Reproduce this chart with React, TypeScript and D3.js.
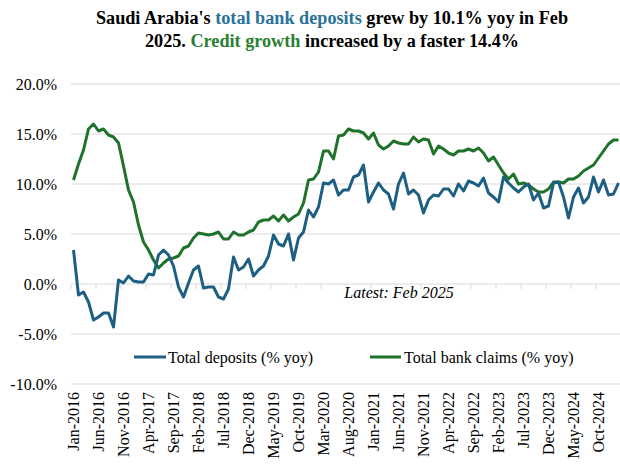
import React from "react";
import * as d3 from "d3";

const monthNames = ["Jan","Feb","Mar","Apr","May","Jun","Jul","Aug","Sep","Oct","Nov","Dec"];
// Jan-2016 .. Feb-2025 (110 months)
const months: string[] = [];
for (let y = 2016; y <= 2025; y++) {
  for (let m = 0; m < 12; m++) {
    if (y === 2025 && m > 1) break;
    months.push(`${monthNames[m]}-${y}`);
  }
}

const deposits = [
  3.4, -1.1, -0.8, -1.8, -3.6, -3.3, -2.9, -2.9, -4.3, 0.4,
  0.1, 0.8, 0.3, 0.2, 0.2, 1.0, 0.9, 2.9, 3.4, 2.9,
  1.8, -0.3, -1.3, 0.1, 1.4, 1.8, -0.4, -0.3, -0.3, -1.3,
  -1.5, -0.5, 2.7, 1.4, 1.7, 2.5, 0.8, 1.4, 1.8, 2.8,
  4.9, 4.0, 3.8, 5.0, 2.4, 4.6, 5.2, 7.4, 6.7, 7.7,
  10.1, 10.0, 10.4, 8.9, 9.4, 9.4, 10.7, 10.9, 11.9, 8.2,
  9.2, 10.1, 9.4, 9.0, 7.5, 10.0, 11.1, 9.0, 9.4, 8.9,
  7.1, 8.4, 8.9, 8.8, 9.5, 9.5, 8.8, 10.0, 9.3, 10.3,
  10.1, 9.8, 10.6, 9.1, 8.7, 8.2, 10.7, 10.1, 9.6, 9.2,
  9.7, 10.0, 8.4, 9.1, 7.6, 7.8, 10.1, 10.2, 8.7, 6.6,
  8.7, 9.6, 8.1, 8.7, 10.7, 9.2, 10.4, 8.9, 9.0, 10.1,
];

const claims = [
  10.4, 12.0, 13.4, 15.5, 16.0, 15.3, 15.5, 14.9, 14.7, 14.1,
  11.8, 9.4, 8.2, 5.9, 4.2, 3.4, 2.4, 1.6, 2.1, 2.5,
  2.6, 2.8, 3.6, 3.8, 4.6, 5.1, 5.0, 4.9, 5.0, 5.2,
  4.5, 4.5, 5.2, 4.9, 4.9, 5.2, 5.4, 6.2, 6.4, 6.4,
  6.8, 6.3, 6.9, 6.3, 6.7, 7.0, 8.1, 10.4, 10.5, 11.2,
  13.3, 13.3, 12.5, 14.8, 14.9, 15.5, 15.3, 15.3, 15.1, 14.5,
  15.1, 13.9, 13.5, 13.8, 14.3, 14.1, 14.0, 14.0, 14.7, 14.2,
  14.5, 14.4, 13.0, 13.8, 13.5, 13.1, 12.9, 13.3, 13.3, 13.5,
  13.3, 13.6, 13.1, 12.3, 12.7, 11.9, 11.1, 10.5, 11.0, 10.0,
  10.1, 9.9, 9.5, 9.2, 9.2, 9.5, 10.2, 10.2, 10.1, 10.5,
  10.5, 10.8, 11.3, 11.6, 11.9, 12.6, 13.3, 14.0, 14.4, 14.4,
];

const yTicks = [20, 15, 10, 5, 0, -5, -10];
const seriesNames = ["Total deposits (% yoy)", "Total bank claims (% yoy)"];

const BLUE = "#1c5f82";
const GREEN = "#1f7229";
const FONT = "'Liberation Serif', 'Times New Roman', serif";

export default function App() {
  const W = 620, H = 466;
  const x = d3.scaleBand<string>().domain(months).range([71, 621]).padding(0);
  const y = d3.scaleLinear().domain([-10, 20]).range([384, 84]);
  const cx = (i: number) => (x(months[i]) as number) + x.bandwidth() / 2;
  const line = d3.line<number>().x((_, i) => cx(i)).y((d) => y(d));
  const tickIdx = months.map((_, i) => i).filter((i) => i % 5 === 0);

  return (
    <svg width={W} height={H} style={{ position: "absolute", left: 0, top: 0, background: "#fff" }} fontFamily={FONT}>
      <text x={332} y={24} textAnchor="middle" fontSize={18.2} fontWeight="bold" fill="#000">
        Saudi Arabia's <tspan fill="#2b7299">total bank deposits</tspan> grew by 10.1% yoy in Feb
      </text>
      <text x={332} y={47} textAnchor="middle" fontSize={18.2} fontWeight="bold" fill="#000">
        2025. <tspan fill="#2a7f33">Credit growth</tspan> increased by a faster 14.4%
      </text>

      {yTicks.map((t) => (
        <g key={t}>
          <line x1={71} x2={620} y1={y(t)} y2={y(t)} stroke="#d9d9d9" strokeWidth={1} />
          <text x={57} y={y(t)} dy="0.35em" textAnchor="end" fontSize={16} fill="#000">
            {t.toFixed(1)}%
          </text>
        </g>
      ))}

      {tickIdx.map((i) => (
        <line key={"t" + i} x1={x(months[i]) as number} x2={x(months[i]) as number} y1={y(0)} y2={y(0) + 5} stroke="#d9d9d9" strokeWidth={1} />
      ))}

      {tickIdx.map((i) => (
        <text key={"l" + i} transform={`translate(${cx(i)},392) rotate(-90)`} dy="0.35em" textAnchor="end" fontSize={16} fill="#000">
          {months[i]}
        </text>
      ))}

      <path d={line(claims) || ""} fill="none" stroke={GREEN} strokeWidth={3} strokeLinejoin="round" />
      <path d={line(deposits) || ""} fill="none" stroke={BLUE} strokeWidth={3} strokeLinejoin="round" />

      <text x={399} y={298} textAnchor="middle" fontSize={16} fontStyle="italic" fill="#000">
        Latest: Feb 2025
      </text>

      <line x1={134} x2={166} y1={357} y2={357} stroke={BLUE} strokeWidth={3} />
      <text x={168} y={357} dy="0.35em" fontSize={16} fill="#000">{seriesNames[0]}</text>
      <line x1={370} x2={401} y1={357} y2={357} stroke={GREEN} strokeWidth={3} />
      <text x={404} y={357} dy="0.35em" fontSize={16} fill="#000">{seriesNames[1]}</text>
    </svg>
  );
}
